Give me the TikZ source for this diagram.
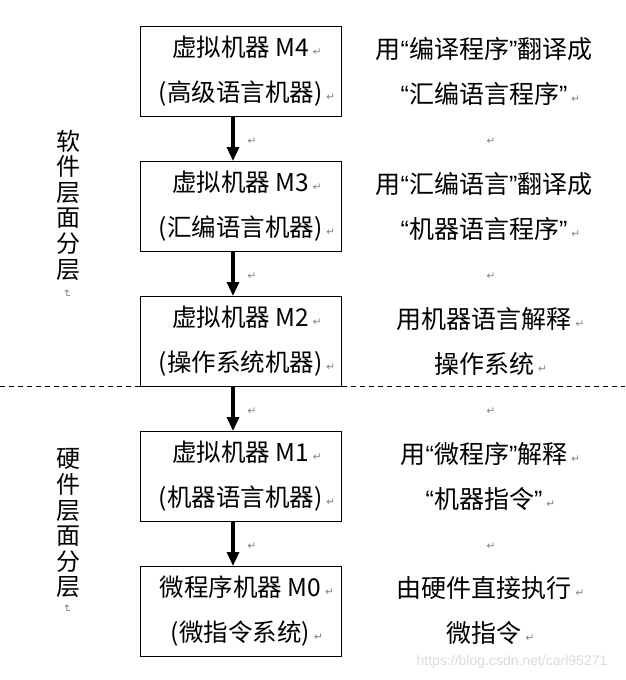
\documentclass[tikz,border=0pt]{standalone}
\usepackage{fontspec}
\setmainfont{Noto Sans CJK SC}
\newfontfamily\djv{DejaVu Sans}
\newfontfamily\wmfont{Liberation Sans}
\usetikzlibrary{arrows.meta}
\definecolor{mkgray}{gray}{0.5}
\definecolor{wmgray}{gray}{0.86}
\newcommand{\pmk}{\textcolor{mkgray}{\djv\fontsize{10.5}{10.5}\selectfont ↵}}
\newcommand{\tmk}[1]{#1\rlap{\hspace{4pt}\raisebox{1pt}{\pmk}}}
\newcommand{\oq}{{\wmfont “}}
\newcommand{\cq}{{\wmfont ”}}
\begin{document}
\begin{tikzpicture}[x=1pt,y=-1pt,
  every node/.style={inner sep=0pt, outer sep=0pt},
  lvbox/.style={draw, line width=1pt, minimum width=201pt, minimum height=90pt,
    align=center, font=\fontsize{24.5}{45}\selectfont},
  rtext/.style={align=center, font=\fontsize{25}{45}\selectfont},
  vtext/.style={align=center, font=\fontsize{24}{25.6}\selectfont},
  gapmk/.style={font=\djv\fontsize{10.5}{10.5}\selectfont, text=mkgray},
  dnarrow/.style={line width=3.2pt, -{Triangle[length=14pt,width=12pt]}}
]
\useasboundingbox (0,0) rectangle (625,680);
\fill[white] (0,0) rectangle (625,680);

% boxes
\node[lvbox] (b4) at (240.5,71) {\tmk{虚拟机器 M4}\\\tmk{(高级语言机器)}};
\node[lvbox] (b3) at (240.5,206) {\tmk{虚拟机器 M3}\\\tmk{(汇编语言机器)}};
\node[lvbox] (b2) at (240.5,341) {\tmk{虚拟机器 M2}\\\tmk{(操作系统机器)}};
\node[lvbox] (b1) at (240.5,476) {\tmk{虚拟机器 M1}\\\tmk{(机器语言机器)}};
\node[lvbox] (b0) at (240.5,611) {\tmk{微程序机器 M0}\\\tmk{(微指令系统)}};

% right texts
\node[rtext] (r4) at (484,71) {用\oq 编译程序\cq 翻译成\\\tmk{\oq 汇编语言程序\cq}};
\node[rtext] (r3) at (484,206) {用\oq 汇编语言\cq 翻译成\\\tmk{\oq 机器语言程序\cq}};
\node[rtext] (r2) at (484,341) {\tmk{用机器语言解释}\\\tmk{操作系统}};
\node[rtext] (r1) at (484,476) {\tmk{用\oq 微程序\cq 解释}\\\tmk{\oq 机器指令\cq}};
\node[rtext] (r0) at (484,611) {\tmk{由硬件直接执行}\\\tmk{微指令}};

% arrows
\draw[dnarrow] ([xshift=-7.5pt]b4.south) -- ([xshift=-7.5pt]b3.north);
\draw[dnarrow] ([xshift=-7.5pt]b3.south) -- ([xshift=-7.5pt]b2.north);
\draw[dnarrow] ([xshift=-7.5pt]b2.south) -- ([xshift=-7.5pt]b1.north);
\draw[dnarrow] ([xshift=-7.5pt]b1.south) -- ([xshift=-7.5pt]b0.north);

% gap markers
\node[gapmk] (g1) at (252,141) {↵};
\node[gapmk] (g2) at (252,276) {↵};
\node[gapmk] (g3) at (252,411) {↵};
\node[gapmk] (g4) at (252,546) {↵};
\node[gapmk] (h1) at (491,141) {↵};
\node[gapmk] (h2) at (491,276) {↵};
\node[gapmk] (h3) at (491,411) {↵};
\node[gapmk] (h4) at (491,546) {↵};

% dashed separator
\coordinate (dl) at (0,386);
\coordinate (dr) at (625,386);
\draw[line width=0.9pt, dash pattern=on 5pt off 4pt] (dl) -- (dr);

% vertical labels
\node[vtext] (soft) at (68,205) {软\\件\\层\\面\\分\\层};
\node[gapmk, rotate=-90] (softmk) at (67,294) {↵};
\node[vtext] (hard) at (68,523.5) {硬\\件\\层\\面\\分\\层};
\node[gapmk, rotate=-90] (hardmk) at (67,609) {↵};

% watermark
\node[font=\wmfont\fontsize{14}{14}\selectfont, text=wmgray] (wm) at (512,662) {https://blog.csdn.net/carl95271};
\end{tikzpicture}
\end{document}
